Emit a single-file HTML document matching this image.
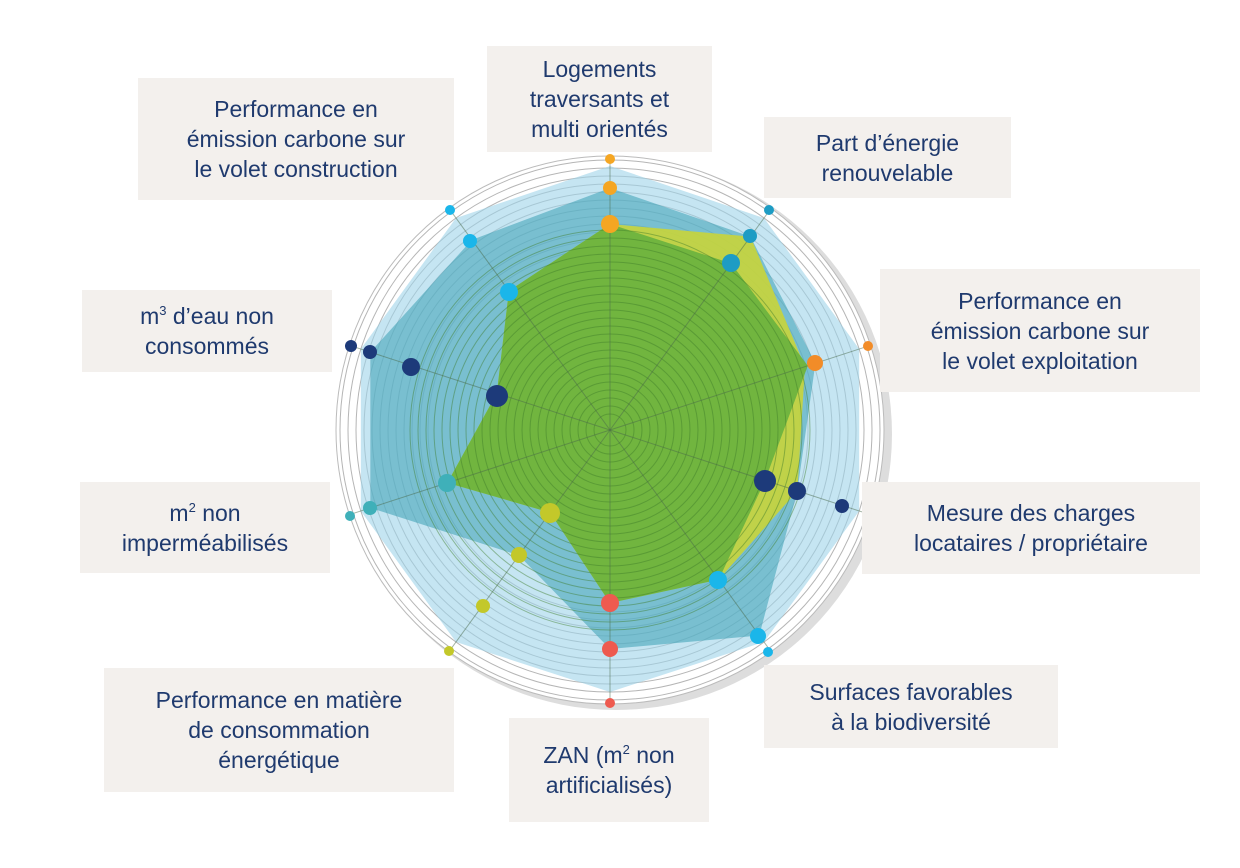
<!DOCTYPE html>
<html><head><meta charset="utf-8"><style>
body{margin:0;width:1240px;height:868px;background:#fff;position:relative;overflow:hidden;font-family:"Liberation Sans",sans-serif}
.b{position:absolute;background:#f3f0ed;color:#1f3a6e;font-size:23px;line-height:30px;text-align:center;display:flex;align-items:center;justify-content:center}
.b sup{font-size:13px;line-height:0;vertical-align:9px}
svg{position:absolute;left:0;top:0}
</style></head><body>
<svg id="s" width="1240" height="868"></svg>
<div class="b" style="left:487px;top:46px;width:225px;height:106px"><div>Logements<br>traversants et<br>multi orientés</div></div>
<div class="b" style="left:138px;top:78px;width:316px;height:122px"><div>Performance en<br>émission carbone sur<br>le volet construction</div></div>
<div class="b" style="left:764px;top:117px;width:247px;height:81px"><div>Part d’énergie<br>renouvelable</div></div>
<div class="b" style="left:880px;top:269px;width:320px;height:123px"><div>Performance en<br>émission carbone sur<br>le volet exploitation</div></div>
<div class="b" style="left:82px;top:290px;width:250px;height:82px"><div>m<sup>3</sup> d’eau non<br>consommés</div></div>
<div class="b" style="left:862px;top:482px;width:338px;height:92px"><div>Mesure des charges<br>locataires / propriétaire</div></div>
<div class="b" style="left:80px;top:482px;width:250px;height:91px"><div>m<sup>2</sup> non<br>imperméabilisés</div></div>
<div class="b" style="left:764px;top:665px;width:294px;height:83px"><div>Surfaces favorables<br>à la biodiversité</div></div>
<div class="b" style="left:104px;top:668px;width:350px;height:124px"><div>Performance en matière<br>de consommation<br>énergétique</div></div>
<div class="b" style="left:509px;top:718px;width:200px;height:104px"><div>ZAN (m<sup>2</sup> non<br>artificialisés)</div></div>
<script>
var cx=610,cy=430,h='';
function P(i,r){var a=i*36*Math.PI/180;return [cx+r*Math.sin(a),cy-r*Math.cos(a)];}
function poly(rs,f,o){return '<polygon points="'+rs.map(function(r,i){return P(i,r).join(',')}).join(' ')+'" fill="'+f+'" fill-opacity="'+o+'"/>';}
h+='<circle cx="'+(cx+6)+'" cy="'+(cy+4)+'" r="276" fill="#ddd"/>';
h+='<circle cx="'+cx+'" cy="'+cy+'" r="274" fill="#fff" stroke="#bbb"/>';
for(var r=270;r>=180;r-=8)h+='<circle cx="'+cx+'" cy="'+cy+'" r="'+r+'" fill="none" stroke="#b5b5b5" stroke-width="1"/>';
h+=poly([264,262,262,262,262,262,262,262,262,262],'#9fd3ea',0.6);
h+=poly([242,239,216,197,254,219,155,252,252,235],'#3aa0b5',0.55);
h+=poly([206,239,205,197,185,173,102,171,119,172],'#c8d43a',0.9);
h+=poly([206,206,208,163,185,173,102,171,119,172],'#6db33f',0.95);
for(var r=200;r>=10;r-=8)h+='<circle cx="'+cx+'" cy="'+cy+'" r="'+r+'" fill="none" stroke="#3f7d2a" stroke-opacity="0.45" stroke-width="1"/>';
for(var i=0;i<10;i++){var p=P(i,270);h+='<line x1="'+cx+'" y1="'+cy+'" x2="'+p[0]+'" y2="'+p[1]+'" stroke="#4a6a4a" stroke-opacity="0.5"/>';}
var D=[['#f5a623',[[610,159,5],[610,188,7],[610,224,9]]],
['#1d9cc4',[[769,210,5],[750,236,7],[731,263,9]]],
['#f28c28',[[868,346,5],[815,363,8]]],
['#1d3a7a',[[842,506,7],[797,491,9],[765,481,11]]],
['#1ab6ea',[[768,652,5],[758,636,8],[718,580,9]]],
['#ee5a4f',[[610,703,5],[610,649,8],[610,603,9]]],
['#c3c82a',[[449,651,5],[483,606,7],[519,555,8],[550,513,10]]],
['#3fb0b9',[[350,516,5],[370,508,7],[447,483,9]]],
['#1d3a7a',[[351,346,6],[370,352,7],[411,367,9],[497,396,11]]],
['#1ab6ea',[[450,210,5],[470,241,7],[509,292,9]]]];
D.forEach(function(d){d[1].forEach(function(q){h+='<circle cx="'+q[0]+'" cy="'+q[1]+'" r="'+q[2]+'" fill="'+d[0]+'"/>';});});
document.getElementById('s').innerHTML=h;
</script>
</body></html>
